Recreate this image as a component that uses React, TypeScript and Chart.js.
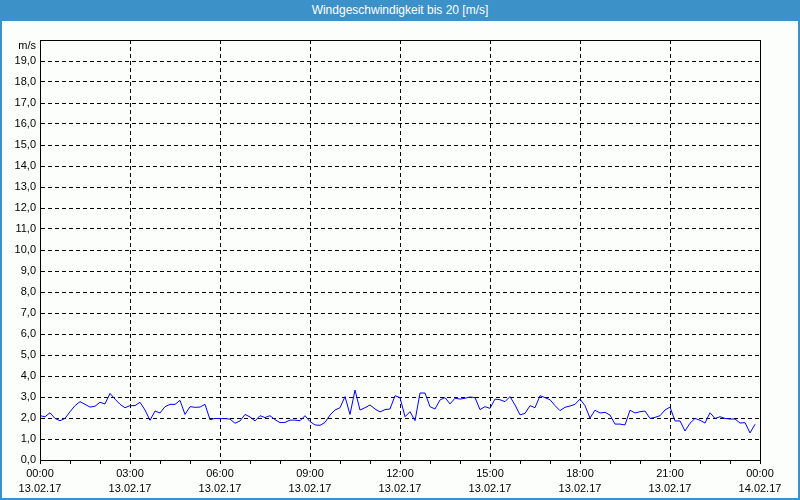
import React, { useEffect, useRef } from "react";
import { Chart, registerables } from "chart.js";

Chart.register(...registerables);

const chartTitle = "Windgeschwindigkeit bis 20 [m/s]";
const unitLabel = "m/s";
// 10-minute samples, 13.02.17 00:00 .. 23:50
const sampleMinutes = 10;
const windSpeed = [
  2.11, 2.06, 2.25, 1.98, 1.87, 1.98, 2.30, 2.59, 2.78, 2.65, 2.52, 2.56, 2.75, 2.67, 3.17, 2.90, 2.65, 2.49, 2.59, 2.59, 2.75, 2.38, 1.89, 2.33,
  2.24, 2.54, 2.65, 2.65, 2.84, 2.17, 2.54, 2.51, 2.52, 2.65, 1.92, 1.98, 1.97, 1.97, 1.95, 1.75, 1.86, 2.17, 2.05, 1.86, 2.11, 2.02, 2.11, 1.92,
  1.78, 1.79, 1.90, 1.90, 1.87, 2.11, 1.83, 1.67, 1.65, 1.79, 2.14, 2.38, 2.49, 3.02, 2.17, 3.33, 2.38, 2.49, 2.62, 2.43, 2.29, 2.40, 2.43, 3.06,
  2.97, 2.06, 2.30, 1.87, 3.19, 3.19, 2.54, 2.43, 2.86, 2.97, 2.67, 2.94, 2.90, 2.94, 3.00, 2.97, 2.40, 2.54, 2.46, 2.90, 2.87, 2.78, 3.02, 2.62,
  2.15, 2.22, 2.59, 2.49, 3.06, 2.97, 2.87, 2.59, 2.35, 2.51, 2.57, 2.65, 2.90, 2.59, 2.00, 2.37, 2.24, 2.27, 2.14, 1.71, 1.71, 1.67, 2.37, 2.24,
  2.30, 2.33, 1.98, 2.03, 2.11, 2.38, 2.52, 1.86, 1.86, 1.38, 1.75, 1.98, 1.89, 1.76, 2.25, 1.98, 2.06, 1.98, 1.95, 1.95, 1.76, 1.78, 1.29, 1.70,
];
const xTickTimes = ["00:00", "03:00", "06:00", "09:00", "12:00", "15:00", "18:00", "21:00", "00:00"];
const xTickDates = ["13.02.17", "13.02.17", "13.02.17", "13.02.17", "13.02.17", "13.02.17", "13.02.17", "13.02.17", "14.02.17"];
const yMin = 0;
const yMax = 20;

const FONT = "'Liberation Sans', Arial, sans-serif";

const frame = {
  id: "frameBox",
  afterDraw(chart: any) {
    const { ctx, chartArea } = chart;
    ctx.save();
    ctx.strokeStyle = "#000";
    ctx.lineWidth = 1;
    ctx.strokeRect(
      Math.round(chartArea.left) + 0.5,
      Math.round(chartArea.top) + 0.5,
      Math.round(chartArea.right - chartArea.left),
      Math.round(chartArea.bottom - chartArea.top)
    );
    ctx.restore();
  },
};

export default function App() {
  const ref = useRef<HTMLCanvasElement>(null);
  useEffect(() => {
    if (!ref.current) return;
    const points = windSpeed.map((v, i) => ({ x: (i * sampleMinutes) / 60, y: v }));
    const chart = new Chart(ref.current, {
      type: "line",
      data: {
        datasets: [
          {
            data: points,
            borderColor: "#0000ff",
            borderWidth: 1,
            pointRadius: 0,
            tension: 0,
            fill: false,
          },
        ],
      },
      options: {
        animation: false,
        responsive: false,
        maintainAspectRatio: false,
        layout: { padding: { top: 19, right: 38, left: 0, bottom: 0 } },
        plugins: { legend: { display: false }, tooltip: { enabled: false }, title: { display: false } },
        scales: {
          x: {
            type: "linear",
            min: 0,
            max: 24,
            afterFit: (s: any) => {
              s.height = 38;
            },
            ticks: {
              stepSize: 1,
              autoSkip: false,
              maxRotation: 0,
              minRotation: 0,
              padding: 2,
              color: "#000",
              font: { family: FONT, size: 11, lineHeight: "15px" },
              callback: (v: any) => {
                const n = Number(v);
                if (n % 3 !== 0) return "";
                const k = n / 3;
                return [xTickTimes[k], xTickDates[k]];
              },
            },
            grid: {
              color: (c: any) => (c.tick && c.tick.value % 3 === 0 ? "#000" : "rgba(0,0,0,0)"),
              lineWidth: 1,
              drawTicks: true,
              tickLength: 4,
              tickColor: "#000",
              tickBorderDash: [],
            },
            border: { display: true, color: "#000", width: 1, dash: [4, 3] },
          },
          y: {
            type: "linear",
            min: yMin,
            max: yMax,
            afterFit: (s: any) => {
              s.width = 38;
            },
            ticks: {
              stepSize: 1,
              autoSkip: false,
              padding: 4,
              color: "#000",
              font: { family: FONT, size: 11, lineHeight: "12px" },
              callback: (v: any) => {
                const n = Number(v);
                if (n === yMax) return [" ", unitLabel];
                return n.toFixed(1).replace(".", ",");
              },
            },
            grid: {
              color: "#000",
              lineWidth: 1,
              drawTicks: false,
            },
            border: { display: true, color: "#000", width: 1, dash: [4, 3] },
          },
        },
      },
      plugins: [frame],
    });
    return () => chart.destroy();
  }, []);

  return (
    <div
      style={{
        position: "fixed",
        left: 0,
        top: 0,
        width: 800,
        height: 500,
        background: "#3c91c8",
        overflow: "hidden",
      }}
    >
      <div
        style={{
          position: "absolute",
          left: 0,
          top: 0,
          width: 800,
          height: 21,
          lineHeight: "20px",
          textAlign: "center",
          color: "#fff",
          fontFamily: FONT,
          fontSize: 12,
          fontWeight: "normal",
        }}
      >
        {chartTitle}
      </div>
      <div
        style={{
          position: "absolute",
          left: 2,
          top: 21,
          width: 796,
          height: 477,
          background: "#fcfefc",
        }}
      >
        <canvas ref={ref} width={796} height={477} style={{ display: "block", width: 796, height: 477 }} />
      </div>
    </div>
  );
}
